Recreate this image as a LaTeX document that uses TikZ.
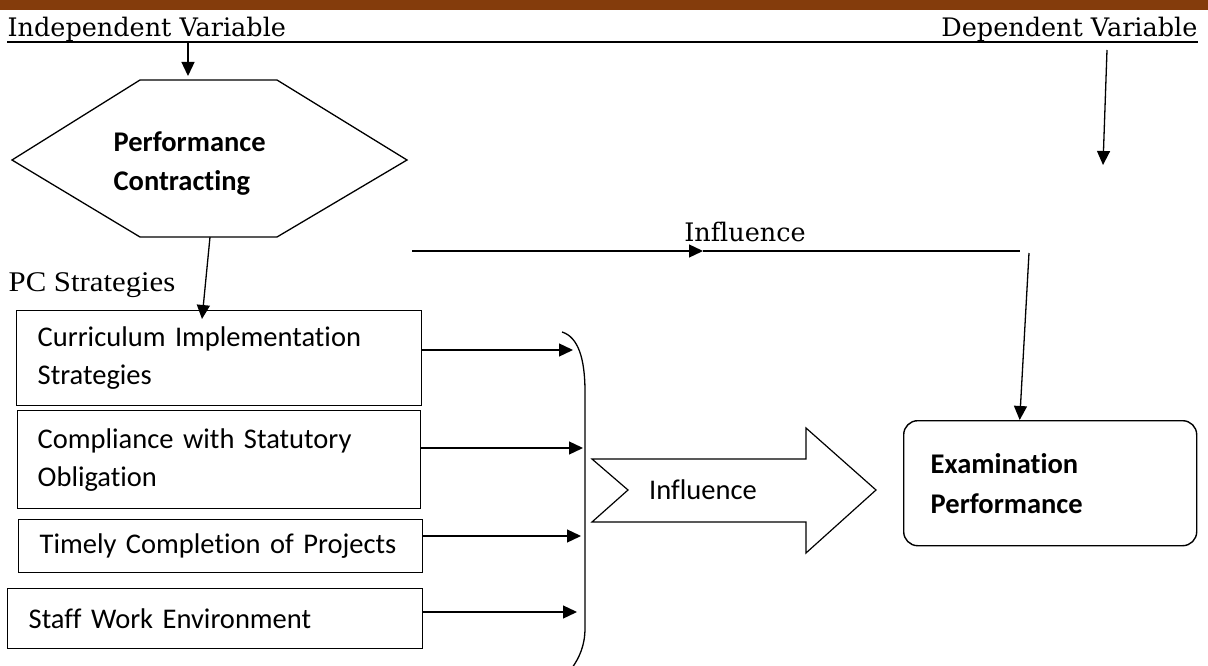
\documentclass[tikz,border=0pt]{standalone}
\usepackage{fontspec}
\setmainfont{Carlito}[Ligatures=NoCommon]
\newfontfamily\headfont{DejaVu Serif}[Ligatures=NoCommon]
\newfontfamily\pcfont[FakeStretch=1.08]{Liberation Serif}
\usetikzlibrary{arrows.meta,calc}
\definecolor{barbrown}{HTML}{843C0C}
\begin{document}
\begin{tikzpicture}[x=1pt,y=-1pt,line width=1.3pt,
  arr/.style={-{Triangle[length=14pt,width=13pt]}},
  heading/.style={font=\headfont\fontsize{25.5}{32}\selectfont, inner sep=0pt},
  boxnode/.style={draw, rectangle, line width=1.4pt, anchor=north west,
    font=\fontsize{28.5}{38}\selectfont, align=left, inner ysep=0pt},
  bodytext/.style={font=\fontsize{28.5}{38}\selectfont, inner sep=0pt},
  boldtext/.style={font=\bfseries\fontsize{28.5}{39}\selectfont, inner sep=0pt, align=left}]
\useasboundingbox (0,0) rectangle (1208,666);
% top bar
\fill[barbrown] (0,0) rectangle (1208,10);
% headings
\node[heading, anchor=base west] (indep) at (7,37) {Independent Variable};
\node[heading, anchor=base east] (dep) at (1198,37) {Dependent Variable};
\draw[line width=1.8pt] ([yshift=-5pt]indep.base west) -- ([yshift=-5pt]dep.base east);
% independent arrow
\coordinate (ivS) at (188,42);
\coordinate (ivT) at (188,76);
\draw[arr] (ivS) -- (ivT);
% hexagon
\draw (140,80) -- (277,80) -- (407,160) -- (277,237) -- (140,237) -- (12,160) -- cycle;
\node[boldtext, anchor=west] (pc) at (113,164) {Performance\\Contracting};
\coordinate (hexS) at (210,237);
% dependent arrow
\coordinate (dvS) at (1107,50);
\coordinate (dvT) at (1103,165);
\draw[arr] (dvS) -- (dvT);
% PC strategies
\node[font=\pcfont\fontsize{28.5}{34}\selectfont, inner sep=0pt, anchor=base west] (pcs) at (8,291) {PC Strategies};
% boxes
\node[boxnode, inner xsep=21pt, text width=363pt, minimum height=95pt] (box1) at (16,310)
  {Curriculum Implementation\\Strategies};
\node[boxnode, inner xsep=20pt, text width=363pt, minimum height=98pt] (box2) at (17,410)
  {Compliance with Statutory\\Obligation};
\node[boxnode, inner xsep=21pt, text width=362pt, minimum height=53pt] (box3) at (18,519)
  {Timely Completion of Projects};
\node[boxnode, inner xsep=21pt, text width=373pt, minimum height=60pt] (box4) at (7,588)
  {Staff Work Environment};
\coordinate (pcT) at (202,319);
\draw[arr] (hexS) -- (pcT);
% arrows into bracket
\coordinate (t1) at (573,350);
\coordinate (t2) at (583,448);
\coordinate (t3) at (581,536);
\coordinate (t4) at (577,612);
\draw[arr] (box1.east |- t1) -- (t1);
\draw[arr] (box2.east |- t2) -- (t2);
\draw[arr] (box3.east |- t3) -- (t3);
\draw[arr] (box4.east |- t4) -- (t4);
% bracket
\draw (562,332) .. controls (578,337) and (585,358) .. (585,392) -- (585,628)
  .. controls (585,646) and (579,658) .. (572,668);
% block arrow
\draw[line width=1.2pt] (592,459) -- (806,459) -- (806,428) -- (876,490) -- (806,553)
  -- (806,522) -- (592,522) -- (628,490) -- cycle;
\node[bodytext] (infl) at (703,490) {Influence};
% exam box
\node[draw, rectangle, rounded corners=14pt, line width=1.4pt, anchor=north west,
  minimum height=125pt, inner xsep=27pt, text width=239pt, align=left,
  font=\bfseries\fontsize{28.5}{40}\selectfont] (exam) at (903,420)
  {Examination\\Performance};
% top influence
\node[heading, anchor=base] (inftop) at (745,241) {Influence};
\coordinate (ia) at (412,251);
\coordinate (ib) at (703,251);
\coordinate (ic) at (1020,251);
\coordinate (id) at (1029,253);
\draw[arr] (ia) -- (ib);
\draw (ib) -- (ic);
\draw[arr] (id) -- ([xshift=-30.5pt]exam.north);
\end{tikzpicture}
\end{document}
